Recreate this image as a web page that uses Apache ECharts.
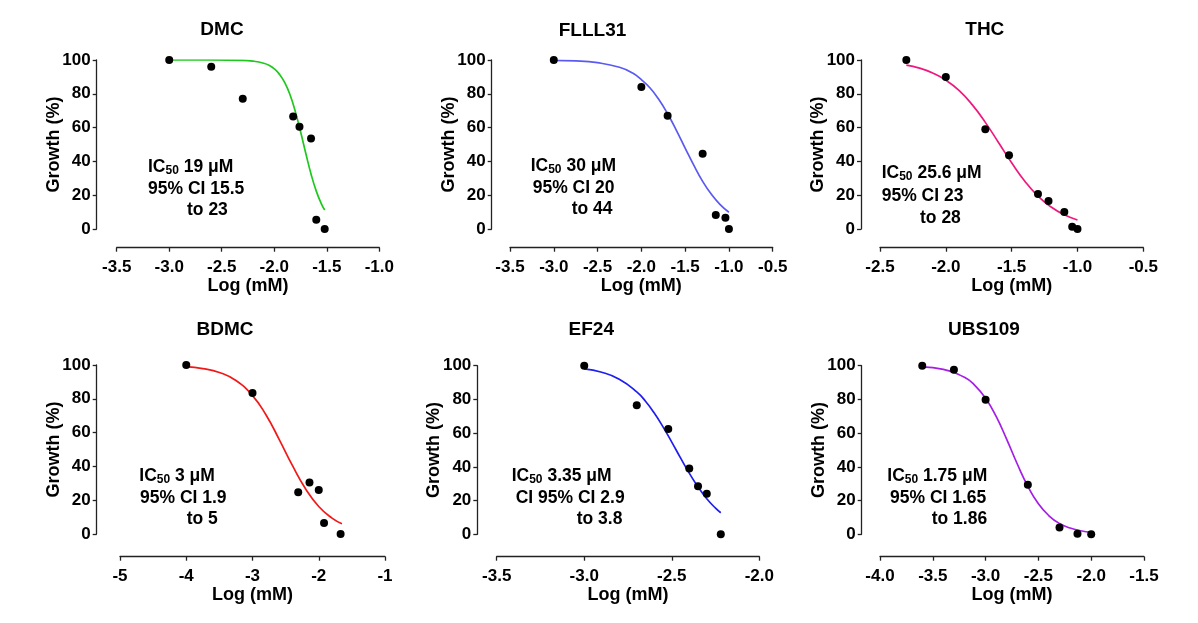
<!DOCTYPE html>
<html><head><meta charset="utf-8">
<script src="https://cdn.jsdelivr.net/npm/echarts@6/dist/echarts.min.js"></script>
<style>html,body{margin:0;padding:0;background:#fff}#c{width:1198px;height:623px}</style>
</head><body><div id="c"></div>
<script>
// ---------- DATA ----------
const titles = ['DMC', 'FLLL31', 'THC', 'BDMC', 'EF24', 'UBS109'];

// measured points: log concentration (mM) and growth (%)
const dmcX = [-3.0, -2.6, -2.3, -1.82, -1.76, -1.65, -1.6, -1.52];
const dmcY = [100, 96, 77, 66.5, 60.5, 53.5, 5.5, 0];
const flllX = [-3.0, -2.0, -1.7, -1.3, -1.15, -1.04, -1.0];
const flllY = [100, 84, 67, 44.6, 8.3, 6.7, 0];
const thcX = [-2.3, -2.0, -1.7, -1.52, -1.3, -1.22, -1.1, -1.04, -1.0];
const thcY = [100, 90, 59, 43.6, 20.7, 16.6, 10, 1.4, 0];
const bdmcX = [-4.0, -3.0, -2.31, -2.14, -2.0, -1.92, -1.67];
const bdmcY = [100, 83.4, 24.7, 30.4, 26, 6.5, 0];
const ef24X = [-3.0, -2.7, -2.52, -2.4, -2.35, -2.3, -2.22];
const ef24Y = [100, 76.5, 62.5, 39, 28.5, 24, 0];
const ubsX = [-3.6, -3.3, -3.0, -2.6, -2.3, -2.13, -2.0];
const ubsY = [100, 97.6, 79.8, 29.4, 4, 0.4, 0];

// fitted curves
const dmcFitX = [-3.0, -2.6, -2.3, -2.2, -2.1, -2.05, -2.0, -1.95, -1.9, -1.85, -1.8, -1.75, -1.7, -1.65, -1.6, -1.55, -1.52];
const dmcFitY = [100, 100, 99.8, 99.3, 98.1, 96.9, 94.8, 91.5, 86.6, 79.4, 69.6, 57.7, 44.8, 32.6, 22.4, 14.7, 11.2];
const flllFitX = [-3.0, -2.75, -2.5, -2.25, -2.1, -2.0, -1.9, -1.8, -1.7, -1.6, -1.5, -1.4, -1.3, -1.2, -1.1, -1.0];
const flllFitY = [99.8, 99.5, 98.4, 95.7, 92.3, 88.4, 83.4, 76.6, 68.2, 58.4, 47.9, 37.6, 28.2, 20.5, 14.4, 9.9];
const thcFitX = [-2.3, -2.2, -2.1, -2.0, -1.9, -1.8, -1.7, -1.6, -1.5, -1.4, -1.3, -1.2, -1.1, -1.0];
const thcFitY = [97.0, 95.2, 92.3, 88.1, 82.0, 73.6, 63.1, 51.2, 39.2, 28.3, 19.5, 13.0, 8.4, 5.3];
const bdmcFitX = [-4.0, -3.75, -3.5, -3.25, -3.0, -2.8, -2.6, -2.4, -2.2, -2.0, -1.8, -1.65];
const bdmcFitY = [99.0, 97.9, 95.6, 90.8, 81.9, 70.7, 56.2, 40.7, 26.8, 16.3, 9.4, 6.1];
const ef24FitX = [-3.0, -2.9, -2.8, -2.7, -2.65, -2.6, -2.55, -2.5, -2.45, -2.4, -2.35, -2.3, -2.25, -2.22];
const ef24FitY = [98.1, 96.1, 92.0, 84.5, 78.9, 71.9, 63.7, 54.7, 45.3, 36.3, 28.1, 21.1, 15.5, 12.8];
const ubsFitX = [-3.6, -3.4, -3.2, -3.1, -3.0, -2.9, -2.8, -2.7, -2.6, -2.5, -2.4, -2.3, -2.2, -2.1, -2.0];
const ubsFitY = [99.3, 97.8, 93.1, 88.2, 80.7, 69.9, 56.3, 41.7, 28.5, 18.1, 11.0, 6.4, 3.7, 2.1, 1.2];

// x-axis ranges and tick labels
const xMins = [-3.5, -3.5, -2.5, -5, -3.5, -4.0];
const xMaxs = [-1.0, -0.5, -0.5, -1, -2.0, -1.5];
const xSteps = [0.5, 0.5, 0.5, 1, 0.5, 0.5];
const yTicks = [0, 20, 40, 60, 80, 100];

// annotation texts
const icValues = ['19', '30', '25.6', '3', '3.35', '1.75'];
const ciLines = ['95% CI 15.5', '95% CI 20', '95% CI 23', '95% CI 1.9', 'CI 95% CI 2.9', '95% CI 1.65'];
const toLines = ['to 23', 'to 44', 'to 28', 'to 5', 'to 3.8', 'to 1.86'];

// ---------- LAYOUT / STYLE ----------
const pts = [[dmcX, dmcY], [flllX, flllY], [thcX, thcY], [bdmcX, bdmcY], [ef24X, ef24Y], [ubsX, ubsY]];
const fits = [[dmcFitX, dmcFitY], [flllFitX, flllFitY], [thcFitX, thcFitY], [bdmcFitX, bdmcFitY], [ef24FitX, ef24FitY], [ubsFitX, ubsFitY]];
const colors = ['#1ec81e', '#5a5af2', '#f0187e', '#f21818', '#1e1ef0', '#a41ee6'];
// grid pixel boxes: [left, rightEdge, top(y=100), bottom(y=0), xAxisLineY, yAxisLineX]
const boxes = [
  [116.7, 379.3, 60, 229, 247.7, 96.7],
  [510, 772.7, 60, 229, 247.7, 491.7],
  [880, 1143.3, 60, 229, 247.7, 861],
  [120, 385, 365, 534, 556.7, 96.7],
  [496.7, 759.3, 365.7, 534.3, 556.7, 477.3],
  [880, 1144, 365.7, 534.3, 556.7, 861.7]
];
const titlePos = [[222, 30], [592.5, 30.5], [984.8, 30], [225, 330], [591.3, 330], [984, 330]];
const annPos = [
  [[148, 167], [148, 189], [187, 210]],
  [[530.7, 166], [532.7, 188], [571.7, 209]],
  [[881.7, 173], [881.7, 195.7], [920, 217.7]],
  [[139.3, 475.7], [140, 497.7], [186.7, 519.3]],
  [[511.7, 475.7], [515.7, 498.3], [576.7, 519.3]],
  [[887.3, 475.7], [890, 497.7], [931.7, 519.3]]
];

const FONT = '"Liberation Sans", Arial, sans-serif';
const W = 1198, H = 623;
const grids = [], xAxes = [], yAxes = [], series = [], graphics = [];

boxes.forEach((b, i) => {
  grids.push({ left: b[0], width: b[1] - b[0], top: b[2], height: b[3] - b[2], containLabel: false });
  const dec = xSteps[i] < 1 ? 1 : 0;
  xAxes.push({
    type: 'value', gridIndex: i, min: xMins[i], max: xMaxs[i], interval: xSteps[i],
    offset: b[4] - b[3],
    name: 'Log (mM)', nameLocation: 'middle', nameGap: 28,
    nameTextStyle: { fontFamily: FONT, fontWeight: 'bold', fontSize: 18, color: '#000' },
    axisLine: { show: true, onZero: false, lineStyle: { color: '#222', width: 1.3 } },
    axisTick: { show: true, length: 4, lineStyle: { color: '#222', width: 1.3 } },
    axisLabel: { margin: 11, fontFamily: FONT, fontWeight: 'bold', fontSize: 17, color: '#000',
      formatter: v => v.toFixed(dec) },
    splitLine: { show: false }
  });
  yAxes.push({
    type: 'value', gridIndex: i, min: yTicks[0], max: yTicks[yTicks.length - 1], interval: yTicks[1] - yTicks[0],
    offset: b[0] - b[5],
    name: 'Growth (%)', nameLocation: 'middle', nameGap: 34, nameRotate: 90, nameMoveOverlap: false,
    nameTextStyle: { fontFamily: FONT, fontWeight: 'bold', fontSize: 18, color: '#000' },
    axisLine: { show: true, onZero: false, lineStyle: { color: '#222', width: 1.3 } },
    axisTick: { show: true, length: 4, lineStyle: { color: '#222', width: 1.3 } },
    axisLabel: { margin: 6, fontFamily: FONT, fontWeight: 'bold', fontSize: 17, color: '#000' },
    splitLine: { show: false }
  });
  series.push({
    type: 'line', xAxisIndex: i, yAxisIndex: i, showSymbol: false, symbol: 'none',
    smooth: 0.5,
    lineStyle: { color: colors[i], width: 1.7 },
    data: fits[i][0].map((x, k) => [x, fits[i][1][k]]),
    z: 2, silent: true
  });
  series.push({
    type: 'scatter', xAxisIndex: i, yAxisIndex: i, symbol: 'circle', symbolSize: 8,
    itemStyle: { color: '#000', opacity: 1 },
    data: pts[i][0].map((x, k) => [x, pts[i][1][k]]),
    z: 3, silent: true
  });
  graphics.push({
    type: 'text', x: titlePos[i][0], y: titlePos[i][1],
    style: { text: titles[i], align: 'center', verticalAlign: 'middle',
      font: 'bold 19px ' + FONT, fill: '#000' }
  });
  const a = annPos[i];
  graphics.push({
    type: 'text', x: a[0][0], y: a[0][1],
    style: { text: '{n|IC}{s|50}{n| ' + icValues[i] + ' μM}', align: 'left', verticalAlign: 'middle',
      fill: '#000',
      rich: {
        n: { fontFamily: FONT, fontWeight: 'bold', fontSize: 17.5, fill: '#000', lineHeight: 20 },
        s: { fontFamily: FONT, fontWeight: 'bold', fontSize: 12, fill: '#000', lineHeight: 20, padding: [8, 0, 0, 0] }
      } }
  });
  graphics.push({
    type: 'text', x: a[1][0], y: a[1][1],
    style: { text: ciLines[i], align: 'left', verticalAlign: 'middle', font: 'bold 17.5px ' + FONT, fill: '#000' }
  });
  graphics.push({
    type: 'text', x: a[2][0], y: a[2][1],
    style: { text: toLines[i], align: 'left', verticalAlign: 'middle', font: 'bold 17.5px ' + FONT, fill: '#000' }
  });
});

const chart = echarts.init(document.getElementById('c'), null, { renderer: 'canvas', width: W, height: H });
chart.setOption({
  backgroundColor: '#fff', animation: false,
  grid: grids, xAxis: xAxes, yAxis: yAxes, series: series, graphic: graphics
});
</script></body></html>
